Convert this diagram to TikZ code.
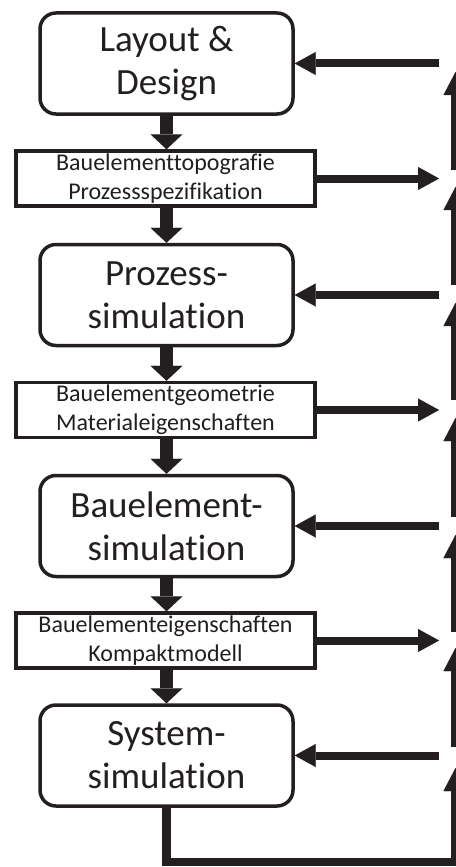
\documentclass[tikz,border=0pt]{standalone}
\usepackage{fontspec}
\setmainfont{Carlito}[Ligatures={NoCommon,NoContextual,NoRequired}]
\usetikzlibrary{arrows.meta}
\definecolor{ink}{HTML}{231F20}
\newcommand\nolig{\kern0pt\relax}
\begin{document}
\begin{tikzpicture}[x=1pt,y=-1pt,
  bigbox/.style={draw=ink, line width=3.5pt, rounded corners=16pt, minimum width=253pt, minimum height=101pt, inner sep=0pt, align=center, font=\fontsize{37}{43}\selectfont, text=ink},
  smallbox/.style={draw=ink, line width=3.5pt, minimum width=299pt, minimum height=55pt, inner sep=0pt, align=center, font=\fontsize{24}{29}\selectfont, text=ink},
  downarrow/.style={draw=ink, line width=13pt, -{Triangle[width=32pt,length=15pt,line width=0.01pt]}},
  harrow/.style={draw=ink, line width=8pt, -{Triangle[width=23pt,length=21pt,line width=0.01pt]}},
  varrow/.style={draw=ink, line width=8.5pt, miter limit=10, -{Triangle[width=24pt,length=23pt,line width=0.01pt]}},
]
\fill[white] (0,0) rectangle (455,867);
\useasboundingbox (0,0) rectangle (455,867);

% main boxes
\node[bigbox] (layout) at (166.5,63.5) {Layout \&\\Design};
\node[smallbox] (topo) at (165.5,178.5) {Bauelementtopografie\\Prozessspezifikat\nolig ion};
\node[bigbox] (proz) at (166.5,295) {Prozess-\\simulat\nolig ion};
\node[smallbox] (geo) at (165.5,410) {Bauelementgeometrie\\Materialeigenschaften};
\node[bigbox] (bau) at (166.5,526) {Bauelement-\\simulat\nolig ion};
\node[smallbox] (eig) at (165.5,640.5) {Bauelementeigenschaften\\Kompaktmodell};
\node[bigbox] (sys) at (166.5,755.5) {System-\\simulat\nolig ion};

% down arrows
\draw[downarrow] (layout.south) -- (layout.south |- topo.north);
\draw[downarrow] (layout.south |- topo.south) -- (proz.north);
\draw[downarrow] (proz.south) -- (proz.south |- geo.north);
\draw[downarrow] (proz.south |- geo.south) -- (bau.north);
\draw[downarrow] (bau.south) -- (bau.south |- eig.north);
\draw[downarrow] (bau.south |- eig.south) -- (sys.north);

% right column coordinates
\coordinate (hL1) at (439,63.5);
\coordinate (hR1) at (439,178.5);
\coordinate (hL2) at (439,295);
\coordinate (hR2) at (439,410);
\coordinate (hL3) at (439,526);
\coordinate (hR3) at (439,640.5);
\coordinate (hL4) at (439,755.5);

% horizontal arrows
\draw[harrow] (hL1) -- (layout.east);
\draw[harrow] (topo.east) -- (hR1);
\draw[harrow] (hL2) -- (proz.east);
\draw[harrow] (geo.east) -- (hR2);
\draw[harrow] (hL3) -- (bau.east);
\draw[harrow] (eig.east) -- (hR3);
\draw[harrow] (hL4) -- (sys.east);

% vertical feedback arrows
\coordinate (v1b) at (455.5,170); \coordinate (v1t) at (455.5,72);
\coordinate (v2b) at (455.5,285); \coordinate (v2t) at (455.5,187);
\coordinate (v3b) at (455.5,400); \coordinate (v3t) at (455.5,303);
\coordinate (v4b) at (455.5,517); \coordinate (v4t) at (455.5,418);
\coordinate (v5b) at (455.5,632); \coordinate (v5t) at (455.5,535);
\coordinate (v6b) at (455.5,747); \coordinate (v6t) at (455.5,648);
\coordinate (v7t) at (455.5,768);
\coordinate (lb) at (166.5,862);
\coordinate (rb) at (455.5,862);

\draw[varrow] (v1b) -- (v1t);
\draw[varrow] (v2b) -- (v2t);
\draw[varrow] (v3b) -- (v3t);
\draw[varrow] (v4b) -- (v4t);
\draw[varrow] (v5b) -- (v5t);
\draw[varrow] (v6b) -- (v6t);
\draw[varrow] (sys.south) -- (lb) -- (rb) -- (v7t);
\end{tikzpicture}
\end{document}
